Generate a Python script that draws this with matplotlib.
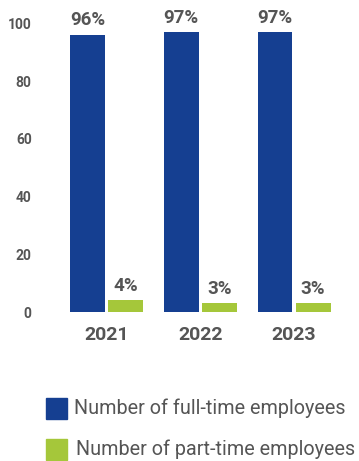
import matplotlib.pyplot as plt
from matplotlib.patches import Rectangle
import numpy as np

plt.rcParams['font.family'] = ['Roboto', 'DejaVu Sans']

years = ['2021', '2022', '2023']
full_time = [96, 97, 97]
part_time = [4, 3, 3]
series_names = ['Number of full-time employees', 'Number of part-time employees']
colors = ['#153f91', '#a5c73a']
text_col = '#555555'

W, H = 359, 461
fig = plt.figure(figsize=(W / 100, H / 100), dpi=100)
ax = fig.add_axes([40 / W, (H - 312) / H, (W - 40) / W, 288.5 / H])

x = np.arange(len(years))
w = 0.373
off = 0.2027
b1 = ax.bar(x - off, full_time, w, color=colors[0])
b2 = ax.bar(x + off, part_time, w, color=colors[1])

for bars, vals in ((b1, full_time), (b2, part_time)):
    for r, v in zip(bars, vals):
        ax.annotate(f'{v}%', (r.get_x() + r.get_width() / 2, v),
                    xytext=(0, 4), textcoords='offset points',
                    ha='center', va='bottom', fontsize=13.5,
                    fontweight='bold', color=text_col, annotation_clip=False)

ax.set_xlim(-0.709, 2.693)
ax.set_ylim(0, 100)
ax.set_yticks([0, 20, 40, 60, 80, 100])
ax.set_xticks(x)
ax.set_xticklabels(years)
ax.tick_params(axis='y', length=0, pad=6, labelsize=10, labelcolor=text_col)
ax.tick_params(axis='x', length=0, pad=10, labelsize=14, labelcolor=text_col)
for lab in ax.get_xticklabels() + ax.get_yticklabels():
    lab.set_fontweight('bold')
for s in ax.spines.values():
    s.set_visible(False)

# legend
for i, (name, c) in enumerate(zip(series_names, colors)):
    top = 398 + 41 * i
    fig.patches.append(Rectangle((46 / W, 1 - (top + 21) / H), 21 / W, 21 / H,
                                 transform=fig.transFigure, color=c))
    fig.text((74 + 2 * i) / W, 1 - (top + 10) / H, name, fontsize=14.2,
             color=text_col, va='center', ha='left')

fig.savefig('out.png', dpi=100)
